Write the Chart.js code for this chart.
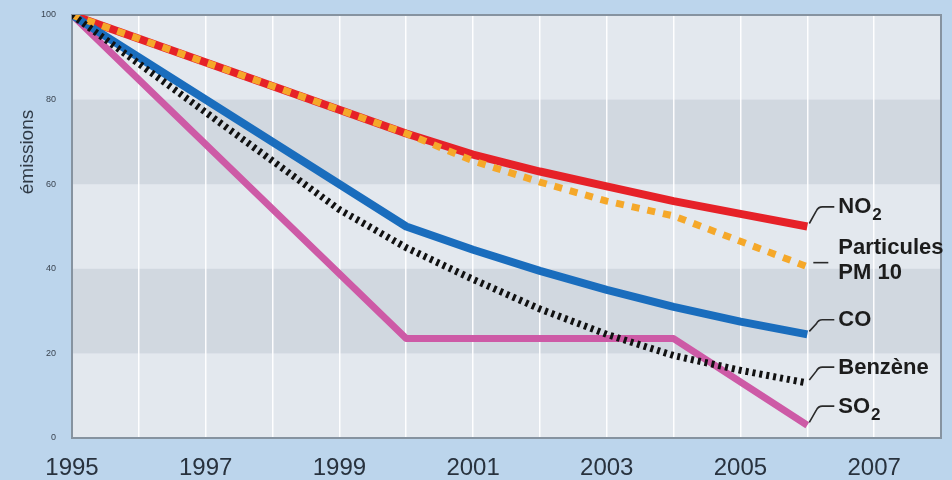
<!DOCTYPE html>
<html>
<head>
<meta charset="utf-8">
<script src="https://cdn.jsdelivr.net/npm/chart.js@4"></script>
<style>
  html, body { margin: 0; padding: 0; background: #bcd5ec; }
  canvas { display: block; }
</style>
</head>
<body>
<canvas id="c" width="952" height="480"></canvas>
<script>
// Emission indices (base 100 in 1995); null = no reading for that year
const years    = [1995, 1996, 1997, 1998, 1999, 2000, 2001, 2002, 2003, 2004, 2005, 2006];
const no2      = [100, null, null, null, null, 72, 67, 63, 59.5, 56, 53, 50];
const pm10     = [100, null, null, null, null, 72, 65.5, 60.5, 56, 52.5, 46.5, 40.5];
const co       = [100, null, null, null, null, 50, 44.5, 39.5, 35, 31, 27.5, 24.5];
const benzene  = [100, null, null, null, 54, 45, 37.5, 30.5, 24.5, 19.5, 16, 13];
const so2      = [100, null, null, null, null, 23.5, null, null, null, 23.5, null, 3];

const xTickLabels = ['1995', '1997', '1999', '2001', '2003', '2005', '2007'];
const yTicks      = [0, 20, 40, 60, 80, 100];
const shadedBands = [[20, 40], [60, 80]];

// target plot rectangle inside the 952x480 canvas
const FRAME = { left: 72, top: 15, right: 941, bottom: 438 };

function pts(vals) {
  return years.map((yr, i) => ({ x: yr, y: vals[i] })).filter(p => p.y !== null);
}

// Right-hand series labels; "at" is the value level of the label centre
const seriesLabels = [
  { ds: 0, lines: [['NO', '2']],                 at: 55.0, hook: true },
  { ds: 1, lines: [['Particules'], ['PM 10']],   at: 42.4, hook: false },
  { ds: 2, lines: [['CO']],                      at: 28.3, hook: true },
  { ds: 3, lines: [['Benzène']],                 at: 17.1, hook: true },
  { ds: 4, lines: [['SO', '2']],                 at: 7.9,  hook: true }
];

const plotFrame = {
  id: 'plotFrame',
  beforeDraw(chart) {
    const { ctx, chartArea: a, scales: { y } } = chart;
    ctx.save();
    ctx.fillStyle = '#e3e8ee';
    ctx.fillRect(a.left, a.top, a.right - a.left, a.bottom - a.top);
    ctx.fillStyle = '#d1d8e0';
    shadedBands.forEach(([lo, hi]) => {
      const t = y.getPixelForValue(hi), b = y.getPixelForValue(lo);
      ctx.fillRect(a.left, t, a.right - a.left, b - t);
    });
    ctx.restore();
  },
  beforeDatasetsDraw(chart) {
    const { ctx, chartArea: a } = chart;
    ctx.save();
    ctx.strokeStyle = '#8693a0';
    ctx.lineWidth = 2;
    ctx.strokeRect(a.left, a.top, a.right - a.left, a.bottom - a.top);
    // vertical axis title
    ctx.translate(28, 152);
    ctx.rotate(-Math.PI / 2);
    ctx.fillStyle = '#2f3a46';
    ctx.font = '19px "Liberation Sans", Arial, sans-serif';
    ctx.textAlign = 'center';
    ctx.textBaseline = 'middle';
    ctx.fillText('émissions', 0, 0);
    ctx.restore();
  }
};

const endLabels = {
  id: 'endLabels',
  afterDatasetsDraw(chart) {
    const { ctx, scales: { y } } = chart;
    ctx.save();
    seriesLabels.forEach(lab => {
      const meta = chart.getDatasetMeta(lab.ds);
      const last = meta.data[meta.data.length - 1];
      const ex = last.x, ey = last.y;
      const cy = y.getPixelForValue(lab.at);
      const textX = ex + 31;
      ctx.strokeStyle = '#2a2a2a';
      ctx.lineWidth = 1.6;
      ctx.beginPath();
      if (lab.hook) {
        const hy = cy + 1.5;
        ctx.moveTo(ex + 2, ey - 3);
        ctx.lineTo(ex + 9, hy + 4);
        ctx.quadraticCurveTo(ex + 11, hy, ex + 15, hy);
        ctx.lineTo(textX - 4, hy);
      } else {
        const hy = cy + 4;
        ctx.moveTo(ex + 6, hy);
        ctx.lineTo(ex + 21, hy);
      }
      ctx.stroke();

      ctx.fillStyle = '#1c1c1c';
      ctx.textBaseline = 'alphabetic';
      ctx.textAlign = 'left';
      const lineH = 25;
      const n = lab.lines.length;
      lab.lines.forEach((parts, i) => {
        const base = cy + 8 + (i - (n - 1) / 2) * lineH;
        ctx.font = 'bold 22px "Liberation Sans", Arial, sans-serif';
        ctx.fillText(parts[0], textX, base);
        if (parts[1]) {
          const w = ctx.measureText(parts[0]).width;
          ctx.font = 'bold 17px "Liberation Sans", Arial, sans-serif';
          ctx.fillText(parts[1], textX + w + 1, base + 7);
        }
      });
    });
    ctx.restore();
  }
};

const common = { fill: false, pointRadius: 0, pointHoverRadius: 0, tension: 0, borderJoinStyle: 'round' };
const clear = 'rgba(0,0,0,0)';

const chart = new Chart(document.getElementById('c'), {
  type: 'line',
  data: {
    datasets: [
      { ...common, label: 'NO2', data: pts(no2), borderColor: '#e62128', borderWidth: 8, order: 4 },
      { ...common, label: 'Particules PM 10', data: pts(pm10), borderColor: '#f5a82a', borderWidth: 7,
        borderDash: [8, 8], borderCapStyle: 'butt', order: 1 },
      { ...common, label: 'CO', data: pts(co), borderColor: '#1a6dbd', borderWidth: 8, order: 2 },
      { ...common, label: 'Benzène', data: pts(benzene), borderColor: '#111111', borderWidth: 7,
        borderDash: [3, 4], borderCapStyle: 'butt', order: 0 },
      { ...common, label: 'SO2', data: pts(so2), borderColor: '#cd5aa6', borderWidth: 7, order: 3 }
    ]
  },
  options: {
    responsive: false,
    animation: false,
    events: [],
    layout: { padding: { top: FRAME.top, right: 952 - FRAME.right, left: 0, bottom: 0 } },
    plugins: { legend: { display: false }, tooltip: { enabled: false } },
    scales: {
      x: {
        type: 'linear', min: 1995, max: 2008,
        afterFit(s) { s.height = 480 - FRAME.bottom; },
        border: { display: false },
        grid: {
          drawTicks: true,
          tickLength: 16,
          tickColor: clear,
          lineWidth: 1.5,
          color: ctx => (ctx.tick && (ctx.tick.value === 1995 || ctx.tick.value === 2008)) ? clear : 'rgba(255,255,255,0.95)'
        },
        ticks: {
          stepSize: 1, autoSkip: false, maxRotation: 0, padding: 0,
          color: '#28323e',
          font: { family: '"Liberation Sans", Arial, sans-serif', size: 24 },
          callback: v => xTickLabels.includes(String(v)) ? String(v) : ''
        }
      },
      y: {
        min: 0, max: 100,
        afterFit(s) { s.width = FRAME.left; },
        afterBuildTicks(s) { s.ticks = yTicks.map(v => ({ value: v })); },
        border: { display: false },
        grid: { display: true, drawOnChartArea: false, drawTicks: true, tickLength: 16, tickColor: clear, color: clear },
        ticks: {
          padding: 0,
          color: '#3a4450',
          font: { family: '"Liberation Sans", Arial, sans-serif', size: 9 }
        }
      }
    }
  },
  plugins: [plotFrame, endLabels]
});

// nudge the layout padding until the plot rectangle sits where intended
for (let i = 0; i < 6; i++) {
  const a = chart.chartArea;
  const dTop = FRAME.top - a.top, dRight = a.right - FRAME.right;
  if (Math.abs(dTop) < 0.5 && Math.abs(dRight) < 0.5) break;
  const p = chart.options.layout.padding;
  p.top = Math.max(0, p.top + dTop);
  p.right = Math.max(0, p.right + dRight);
  chart.update();
}
</script>
</body>
</html>
